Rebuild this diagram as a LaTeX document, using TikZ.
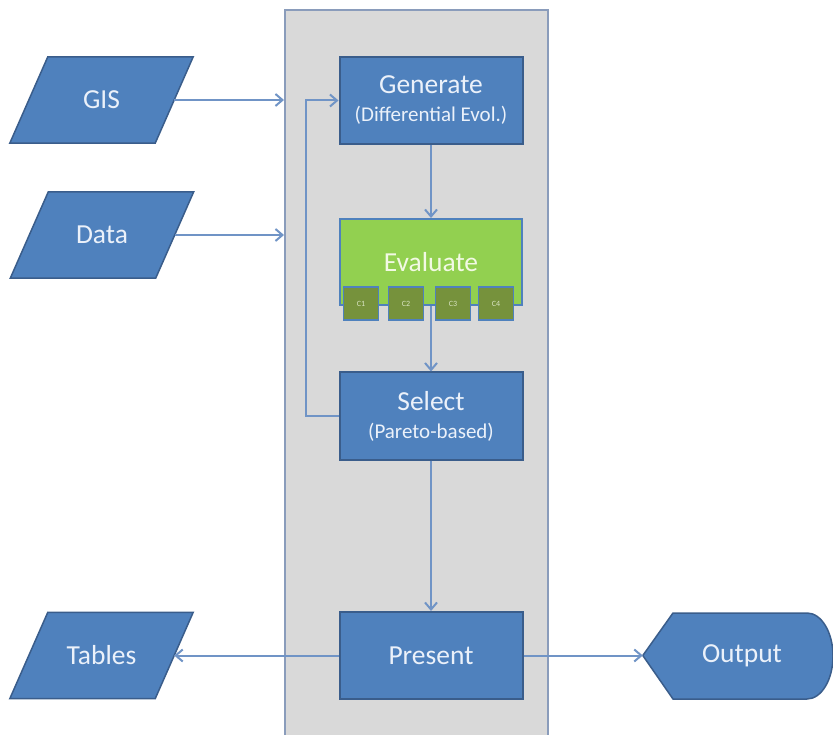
\documentclass[tikz,border=0pt]{standalone}
\usepackage{fontspec}
\setmainfont{Carlito}
\usetikzlibrary{arrows.meta,backgrounds,calc}

\definecolor{boxblue}{HTML}{4F81BD}
\definecolor{boxedge}{HTML}{3A5D8B}
\definecolor{panelgray}{HTML}{D9D9D9}
\definecolor{paneledge}{HTML}{8A9CBB}
\definecolor{linkblue}{HTML}{7094C6}
\definecolor{evalgreen}{HTML}{92D050}
\definecolor{critgreen}{HTML}{76923C}
\definecolor{lighttext}{HTML}{EBF1FA}
\definecolor{greentext}{HTML}{F2F9E4}

\newcommand{\subfont}{\fontsize{21}{24}\selectfont}

\tikzset{
  proc/.style={draw=boxedge, line width=2pt, fill=boxblue, text=lighttext,
    minimum width=183pt, minimum height=87pt, inner sep=0pt, align=center,
    font=\fontsize{27.5}{31}\selectfont},
  evalbox/.style={draw=boxblue, line width=2pt, fill=evalgreen, text=greentext,
    minimum width=182pt, minimum height=86pt, inner sep=0pt,
    font=\fontsize{27.5}{31}\selectfont},
  crit/.style={draw=boxblue, line width=1.5pt, fill=critgreen, text=greentext!80!critgreen,
    minimum width=35pt, minimum height=33pt, inner sep=0pt, font=\fontsize{8}{9}\selectfont},
  iotext/.style={text=lighttext, minimum width=145pt, minimum height=86pt, inner sep=0pt,
    font=\fontsize{27.5}{31}\selectfont},
  iobox/.style={draw=boxedge, line width=1.5pt, fill=boxblue},
  panel/.style={draw=paneledge, line width=2pt, fill=panelgray,
    minimum width=263pt, minimum height=735pt, inner sep=0pt},
  link/.style={draw=linkblue, line width=2pt, -{Straight Barb[length=7pt,width=12pt]}}
}

\begin{document}
\begin{tikzpicture}[x=1pt,y=-1pt]
\useasboundingbox (0,0) rectangle (833,735);

% process column
\node[proc] (gen) at (431,100.5) {Generate\\[-3pt]{\subfont (Differential Evol.)}};
\node[evalbox] (eval) at (431,262) {Evaluate};
\node[crit] (c1) at (361,303.5) {C1};
\node[crit] (c2) at (406,303.5) {C2};
\node[crit] (c3) at (453,303.5) {C3};
\node[crit] (c4) at (496,303.5) {C4};
\node[proc] (sel) at (431,416) {Select\\[-3pt]{\subfont (Pareto-based)}};
\node[proc] (pres) at (431,655.5) {Present};

% inputs and outputs
\node[iotext] (gis) at (101.5,100) {GIS};
\node[iotext] (data) at (102,235) {Data};
\node[iotext] (tab) at (101.5,655.5) {Tables};
\node[iotext, minimum width=198pt] (out) at (742,655.5) {Output};

\begin{pgfonlayer}{background}
  \node[panel] (stage) at (416.5,377.5) {};
  \foreach \n in {gis,data,tab}
    \draw[iobox] ([xshift=19pt]\n.north west) -- ([xshift=19pt]\n.north east)
      -- ([xshift=-19pt]\n.south east) -- ([xshift=-19pt]\n.south west) -- cycle;
  \draw[iobox] (out.west) -- (673,613) -- (807,613)
    arc[start angle=90, end angle=-90, x radius=26pt, y radius=43pt]
    -- (673,699) -- cycle;
\end{pgfonlayer}

% connectors
\draw[link] (gis.east) -- (gis.east -| stage.west);
\draw[link] (data.east) -- (data.east -| stage.west);
\draw[link] (gen.south) -- (eval.north);
\draw[link] (eval.south) -- (sel.north);
\draw[link] (sel.south) -- (pres.north);
\coordinate (loop) at (306,416);
\draw[link] (sel.west) -- (loop) |- (gen.west);
\draw[link] (pres.west) -- (tab.east);
\draw[link] (pres.east) -- (out.west);
\end{tikzpicture}
\end{document}
